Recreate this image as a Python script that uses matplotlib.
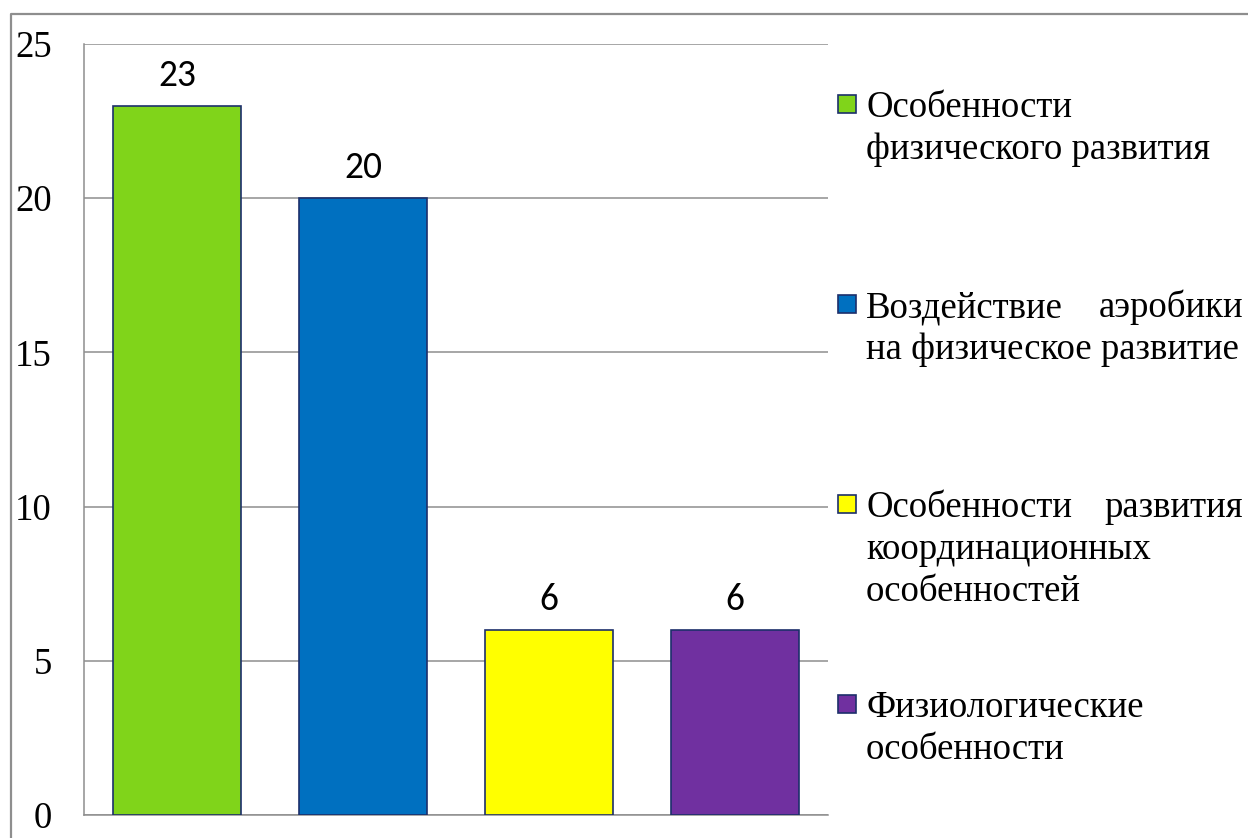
import matplotlib
matplotlib.use("Agg")
import matplotlib.pyplot as plt
from matplotlib.patches import Rectangle
from matplotlib.lines import Line2D

# Data
categories = [
    ["Особенности", "физического развития"],
    ["Воздействие аэробики", "на физическое развитие"],
    ["Особенности развития", "координационных", "особенностей"],
    ["Физиологические", "особенности"],
]
values = [23, 20, 6, 6]
colors = ["#80D41A", "#0070C0", "#FFFF00", "#7030A0"]
y_ticks = [0, 5, 10, 15, 20, 25]

W, H = 1248, 838
EDGE = "#1C2F6B"
GRID = "#8E8E8E"
SERIF = "Liberation Serif"
SANS = "Carlito"

plt.rcParams["font.family"] = SERIF

fig = plt.figure(figsize=(W / 100, H / 100), dpi=100)
fig.patch.set_facecolor("white")


def fx(px):
    return px / W


def fy(py):
    return 1 - py / H


# Outer chart frame (left and top edges visible)
fig.add_artist(Line2D([fx(11), fx(11), fx(W + 5)], [fy(H + 5), fy(14), fy(14)],
                      transform=fig.transFigure, color=GRID, lw=1.6))

ax = fig.add_axes([fx(84), fy(815), fx(828) - fx(84), fy(44) - fy(815)])
x = list(range(len(values)))
ax.bar(x, values, width=0.685, color=colors, edgecolor=EDGE, linewidth=1.2, zorder=3)

ax.set_xlim(-0.5, len(values) - 0.5)
ax.set_ylim(0, 25)
ax.set_yticks(y_ticks)
ax.set_yticklabels([str(t) for t in y_ticks], family=SERIF, fontsize=26.5)
ax.tick_params(axis="y", length=0, pad=(84 - 52) * 0.72)
ax.set_xticks([])
ax.grid(axis="y", color=GRID, lw=1.1, zorder=1)
for s in ["top", "right"]:
    ax.spines[s].set_visible(False)
for s in ["left", "bottom"]:
    ax.spines[s].set_color(GRID)
    ax.spines[s].set_linewidth(1.1)
    ax.spines[s].set_zorder(2)

for xi, v in zip(x, values):
    ax.annotate(str(v), (xi, v), xytext=(0, 14.5), textcoords="offset points",
                ha="center", va="baseline", family=SANS, fontsize=27, color="black")

# Legend drawn as markers with justified multi-line labels
text_left, text_right = 866, 1243
first_baseline, entry_step, line_step = 117, 200, 42
LEG_SIZE = 26.5
for i, (lines, c) in enumerate(zip(categories, colors)):
    base = first_baseline + i * entry_step
    fig.add_artist(Rectangle((fx(838), fy(base - 4)), fx(18), fy(0) - fy(18),
                             transform=fig.transFigure, facecolor=c, edgecolor=EDGE, lw=1.2))
    for j, line in enumerate(lines):
        yb = fy(base + j * line_step)
        words = line.split(" ")
        justify = j < len(lines) - 1 and len(words) > 1
        if justify:
            fig.text(fx(text_left), yb, words[0], ha="left", va="baseline",
                     family=SERIF, fontsize=LEG_SIZE)
            fig.text(fx(text_right), yb, words[-1], ha="right", va="baseline",
                     family=SERIF, fontsize=LEG_SIZE)
        else:
            fig.text(fx(text_left), yb, line, ha="left", va="baseline",
                     family=SERIF, fontsize=LEG_SIZE)

fig.savefig("out.png", dpi=100, facecolor="white")
